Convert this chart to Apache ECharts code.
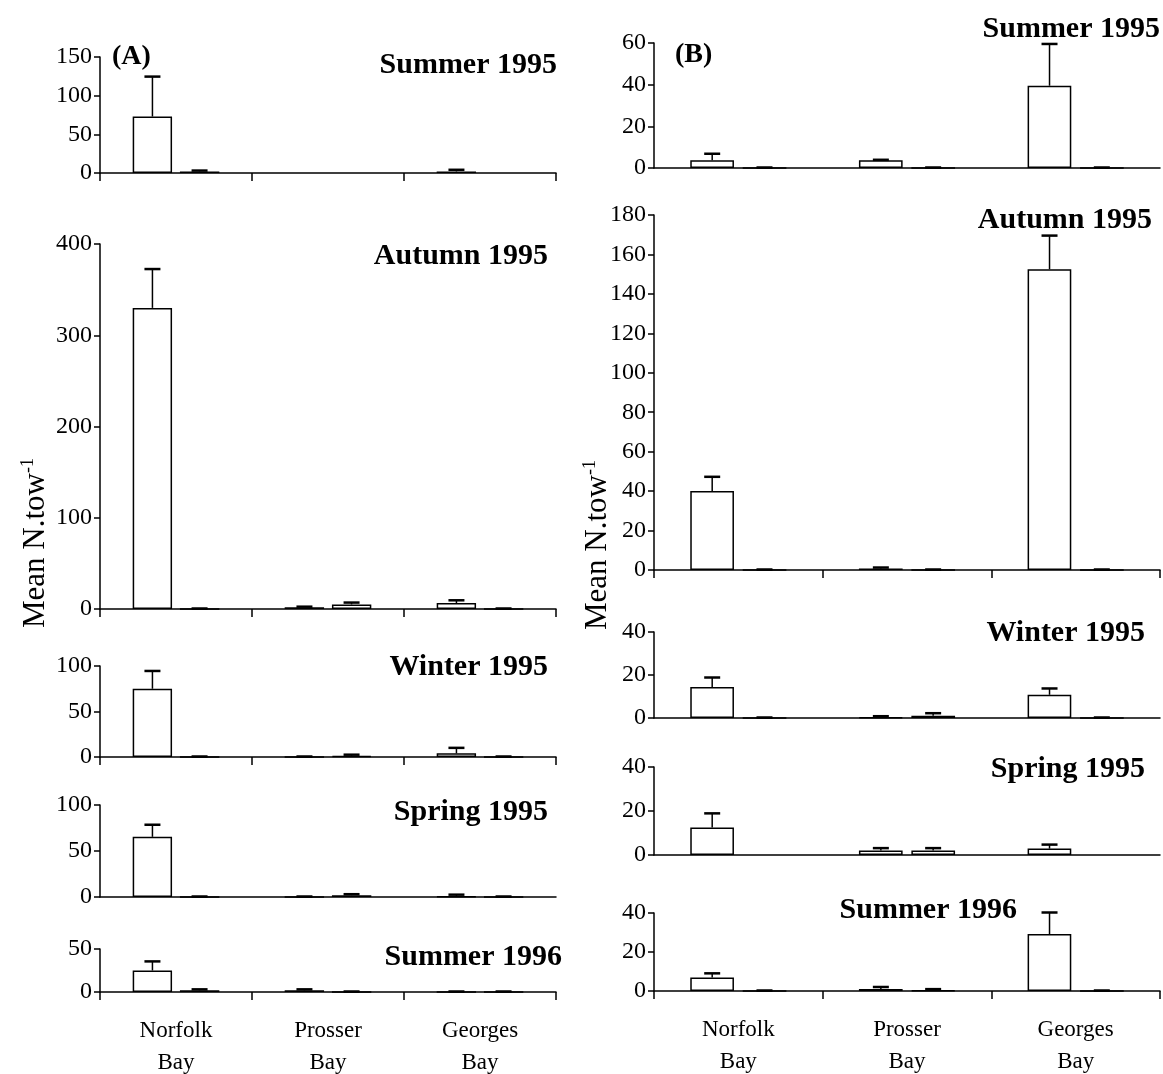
<!DOCTYPE html>
<html>
<head>
<meta charset="utf-8">
<script src="https://cdn.jsdelivr.net/npm/echarts@6/dist/echarts.min.js"></script>
<style>
  html, body, #main { width: 100%; height: 100%; margin: 0; background: #fff; }
</style>
</head>
<body>
<div id="main"></div>
<script>
// categories
var bays = ['Norfolk\nBay', 'Prosser\nBay', 'Georges\nBay'];

// (A) means (first / second bar per bay) and top of error bar
var aSum95Bar1 = [73, null, 2];     var aSum95Err1 = [124, null, 3.5];
var aSum95Bar2 = [2, null, null];   var aSum95Err2 = [2.5, null, null];
var aAut95Bar1 = [330, 2, 6.5];     var aAut95Err1 = [372, 2, 9];
var aAut95Bar2 = [0, 5, 0];         var aAut95Err2 = [0, 6.5, 0];
var aWin95Bar1 = [75, 0, 4];        var aWin95Err1 = [94, 0, 9.5];
var aWin95Bar2 = [0, 1, 0];         var aWin95Err2 = [0, 2, 0];
var aSpr95Bar1 = [65.4, 0, 0.5];    var aSpr95Err1 = [78, 0, 2];
var aSpr95Bar2 = [0, 2, 0];         var aSpr95Err2 = [0, 2.5, 0];
var aSum96Bar1 = [25, 2, 0];        var aSum96Err1 = [35, 2.5, 0];
var aSum96Bar2 = [2, 0, 0];         var aSum96Err2 = [2.5, 0, 0];

// (B)
var bSum95Bar1 = [3.7, 3.7, 39.5];  var bSum95Err1 = [6.6, 3.7, 59.3];
var bSum95Bar2 = [0, 0, 0];         var bSum95Err2 = [0, 0, 0];
var bAut95Bar1 = [40, 0.8, 152.5];  var bAut95Err1 = [47, 1, 169.3];
var bAut95Bar2 = [0, 0, 0];         var bAut95Err2 = [0, 0, 0];
var bWin95Bar1 = [14.4, 0.3, 10.8]; var bWin95Err1 = [18.6, 0.6, 13.5];
var bWin95Bar2 = [0, 1, 0];         var bWin95Err2 = [0, 2, 0];
var bSpr95Bar1 = [12.5, 2.1, 2.9];  var bSpr95Err1 = [18.7, 2.9, 4.5];
var bSpr95Bar2 = [null, 2, null];   var bSpr95Err2 = [null, 2.9, null];
var bSum96Bar1 = [6.9, 1, 29.2];    var bSum96Err1 = [8.8, 1.8, 40];
var bSum96Bar2 = [0, 0.3, 0];       var bSum96Err2 = [0, 0.7, 0];

var FONT = 'Liberation Serif';

// layout of every panel
var panels = [
  { title: 'Summer 1995', left: 100, width: 456, top: 57,  height: 116, max: 150, step: 50,  ticks: true,  tRight: 606, tTop: 50,  b1: aSum95Bar1, e1: aSum95Err1, b2: aSum95Bar2, e2: aSum95Err2 },
  { title: 'Autumn 1995', left: 100, width: 456, top: 244, height: 365, max: 400, step: 100, ticks: true,  tRight: 615, tTop: 241, b1: aAut95Bar1, e1: aAut95Err1, b2: aAut95Bar2, e2: aAut95Err2 },
  { title: 'Winter 1995', left: 100, width: 456, top: 666, height: 91,  max: 100, step: 50,  ticks: true,  tRight: 615, tTop: 652, b1: aWin95Bar1, e1: aWin95Err1, b2: aWin95Bar2, e2: aWin95Err2 },
  { title: 'Spring 1995', left: 100, width: 456, top: 805, height: 92,  max: 100, step: 50,  ticks: false, tRight: 615, tTop: 797, b1: aSpr95Bar1, e1: aSpr95Err1, b2: aSpr95Bar2, e2: aSpr95Err2 },
  { title: 'Summer 1996', left: 100, width: 456, top: 949, height: 43,  max: 50,  step: 50,  ticks: true,  tRight: 601, tTop: 942, b1: aSum96Bar1, e1: aSum96Err1, b2: aSum96Bar2, e2: aSum96Err2, labels: true },
  { title: 'Summer 1995', left: 654, width: 506, top: 43,  height: 125, max: 60,  step: 20,  ticks: false, tRight: 3,   tTop: 14,  b1: bSum95Bar1, e1: bSum95Err1, b2: bSum95Bar2, e2: bSum95Err2 },
  { title: 'Autumn 1995', left: 654, width: 506, top: 215, height: 355, max: 180, step: 20,  ticks: true,  tRight: 11,  tTop: 205, b1: bAut95Bar1, e1: bAut95Err1, b2: bAut95Bar2, e2: bAut95Err2 },
  { title: 'Winter 1995', left: 654, width: 506, top: 632, height: 86,  max: 40,  step: 20,  ticks: false, tRight: 18,  tTop: 618, b1: bWin95Bar1, e1: bWin95Err1, b2: bWin95Bar2, e2: bWin95Err2 },
  { title: 'Spring 1995', left: 654, width: 506, top: 767, height: 88,  max: 40,  step: 20,  ticks: false, tRight: 18,  tTop: 754, b1: bSpr95Bar1, e1: bSpr95Err1, b2: bSpr95Bar2, e2: bSpr95Err2 },
  { title: 'Summer 1996', left: 654, width: 506, top: 913, height: 78,  max: 40,  step: 20,  ticks: true,  tRight: 146, tTop: 895, b1: bSum96Bar1, e1: bSum96Err1, b2: bSum96Bar2, e2: bSum96Err2, labels: true }
];

function errorBars(params, api) {
  var cat = api.value(0);
  var base = api.coord([cat, api.value(1)]);
  var hi = api.coord([cat, api.value(2)]);
  var cw = api.size([1, 0])[0];
  var x = base[0] + (api.value(3) === 0 ? -1 : 1) * 0.155 * cw;
  var cap = 8;
  return {
    type: 'group',
    children: [
      { type: 'line', shape: { x1: x, y1: base[1], x2: x, y2: hi[1] }, style: { stroke: '#000', lineWidth: 1.5 } },
      { type: 'line', shape: { x1: x - cap, y1: hi[1] - 0.5, x2: x + cap, y2: hi[1] - 0.5 }, style: { stroke: '#000', lineWidth: 2.5 } }
    ]
  };
}

var grids = [], xAxes = [], yAxes = [], series = [], titles = [];
panels.forEach(function (p, i) {
  grids.push({ left: p.left, top: p.top, width: p.width, height: p.height, outerBoundsMode: 'none', containLabel: false });
  xAxes.push({
    type: 'category', gridIndex: i, data: bays,
    axisLine: { lineStyle: { color: '#000', width: 1.5 } },
    axisTick: { show: p.ticks, length: 8, lineStyle: { color: '#000', width: 1.5 } },
    axisLabel: { show: !!p.labels, color: '#000', fontFamily: FONT, fontSize: 23, lineHeight: 32, margin: 23 }
  });
  yAxes.push({
    type: 'value', gridIndex: i, min: 0, max: p.max, interval: p.step,
    axisLine: { show: true, lineStyle: { color: '#000', width: 1.5 } },
    axisTick: { show: true, length: 6, lineStyle: { color: '#000', width: 1.5 } },
    axisLabel: { color: '#000', fontFamily: FONT, fontSize: 24, margin: 8 },
    splitLine: { show: false }
  });
  [[p.b1, p.e1], [p.b2, p.e2]].forEach(function (pair) {
    series.push({
      type: 'bar', xAxisIndex: i, yAxisIndex: i,
      data: pair[0], barGap: '20%', barCategoryGap: '43%',
      itemStyle: { color: '#fff', borderColor: '#000', borderWidth: 1.5 },
      silent: true, animation: false
    });
  });
  var errData = [];
  [[p.b1, p.e1], [p.b2, p.e2]].forEach(function (pair, k) {
    pair[0].forEach(function (v, c) {
      if (v !== null) errData.push([c, v, pair[1][c], k]);
    });
  });
  series.push({
    type: 'custom', xAxisIndex: i, yAxisIndex: i, renderItem: errorBars,
    data: errData, z: 5, silent: true, animation: false
  });
  titles.push({
    text: p.title, right: p.tRight, top: p.tTop, padding: 0,
    textStyle: { fontFamily: FONT, fontWeight: 'bold', fontSize: 30, color: '#000' }
  });
});
titles.push({ text: '(A)', left: 112, top: 43, padding: 0, textStyle: { fontFamily: FONT, fontWeight: 'bold', fontSize: 28, color: '#000' } });
titles.push({ text: '(B)', left: 675, top: 41, padding: 0, textStyle: { fontFamily: FONT, fontWeight: 'bold', fontSize: 28, color: '#000' } });

var yName = {
  text: '{a|Mean N.tow}{b|-1}',
  rich: {
    a: { fontFamily: FONT, fontSize: 31, color: '#000', lineHeight: 34 },
    b: { fontFamily: FONT, fontSize: 18, color: '#000', verticalAlign: 'top', lineHeight: 34 }
  },
  align: 'center', verticalAlign: 'middle'
};

var chart = echarts.init(document.getElementById('main'));
chart.setOption({
  backgroundColor: '#fff',
  animation: false,
  title: titles,
  grid: grids,
  xAxis: xAxes,
  yAxis: yAxes,
  series: series,
  graphic: [
    { type: 'text', x: 36, y: 543, rotation: Math.PI / 2, style: yName },
    { type: 'text', x: 598, y: 545, rotation: Math.PI / 2, style: yName }
  ]
});
</script>
</body>
</html>
